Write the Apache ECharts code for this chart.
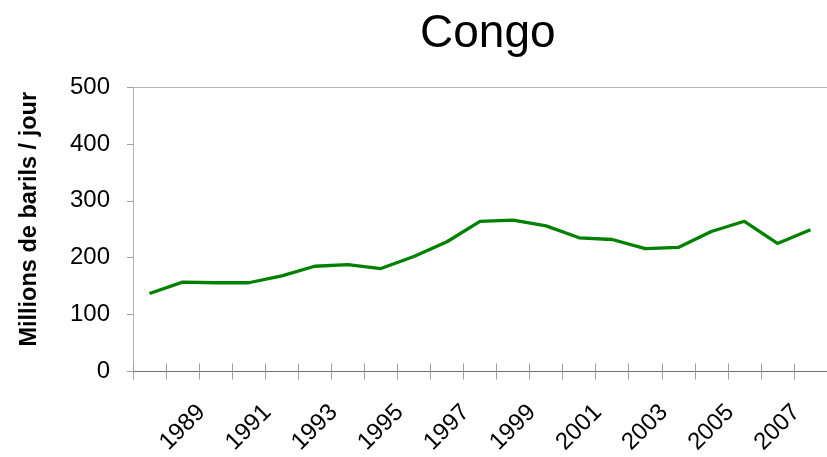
<!DOCTYPE html>
<html>
<head>
<meta charset="utf-8">
<script src="https://cdn.jsdelivr.net/npm/echarts@6/dist/echarts.min.js"></script>
<style>
  html, body { margin: 0; padding: 0; background: #fff; }
  #chart { width: 827px; height: 457px; }
</style>
</head>
<body>
<div id="chart"></div>
<script>
  // Congo - production annuelle
  const years = ['1988', '1989', '1990', '1991', '1992', '1993', '1994', '1995', '1996', '1997', '1998',
    '1999', '2000', '2001', '2002', '2003', '2004', '2005', '2006', '2007', '2008'];
  const production = [137, 157, 156, 156, 168, 185, 188, 181, 202, 228, 264,
    266, 256, 235, 232, 216, 218, 246, 264, 225, 249];
  const yTicks = [0, 100, 200, 300, 400, 500];

  const font = '"Liberation Sans", Arial, sans-serif';
  let chart = echarts.init(document.getElementById('chart'));

  let option = {
    animation: false,
    title: {
      text: 'Congo',
      left: 415,
      top: 6,
      textStyle: {
        fontFamily: font,
        fontSize: 46,
        fontWeight: 'normal',
        color: '#000'
      }
    },
    grid: {
      left: 133,
      top: 87,
      width: 700,
      height: 285
    },
    xAxis: [{
        type: 'category',
        data: years,
        position: 'bottom',
        boundaryGap: true,
        axisLine: {
          show: true,
          lineStyle: { color: '#6e6e6e', width: 1 }
        },
        axisTick: {
          show: true,
          interval: 0,
          length: 8,
          lineStyle: { color: '#a0a0a0', width: 1 }
        },
        axisLabel: {
          interval: function (index) {
            return index % 2 === 1;
          },
          rotate: 45,
          align: 'center',
          verticalAlign: 'middle',
          margin: 56,
          fontFamily: font,
          fontSize: 24,
          color: '#000'
        },
        splitLine: { show: false }
      },
      {
        // second axis only to draw the inner half of the crossing ticks
        type: 'category',
        data: years,
        position: 'bottom',
        axisLine: { show: false },
        axisTick: {
          show: true,
          interval: 0,
          inside: true,
          length: 8,
          lineStyle: { color: '#a0a0a0', width: 1 }
        },
        axisLabel: { show: false },
        splitLine: { show: false }
      }
    ],
    yAxis: {
      type: 'value',
      min: yTicks[0],
      max: yTicks[yTicks.length - 1],
      interval: 100,
      name: 'Millions de barils / jour',
      nameLocation: 'middle',
      nameGap: 91,
      nameTextStyle: {
        fontFamily: font,
        fontSize: 23.5,
        fontWeight: 'bold',
        color: '#000',
        padding: [0, 0, 0, 20]
      },
      axisLine: {
        show: true,
        lineStyle: { color: '#b4b4b4' }
      },
      axisTick: {
        show: true,
        length: 6,
        lineStyle: { color: '#a0a0a0', width: 1 }
      },
      axisLabel: {
        margin: 23,
        fontFamily: font,
        fontSize: 24,
        color: '#000'
      },
      splitLine: { show: false }
    },
    series: [{
      name: 'Congo',
      type: 'line',
      data: production,
      xAxisIndex: 0,
      symbol: 'none',
      lineStyle: {
        color: '#008000',
        width: 3.3
      },
      markLine: {
        silent: true,
        symbol: 'none',
        label: { show: false },
        lineStyle: { color: '#b4b4b4', type: 'solid', width: 1 },
        data: [{ yAxis: 500 }]
      }
    }]
  };
  chart.setOption(option);
</script>
</body>
</html>
